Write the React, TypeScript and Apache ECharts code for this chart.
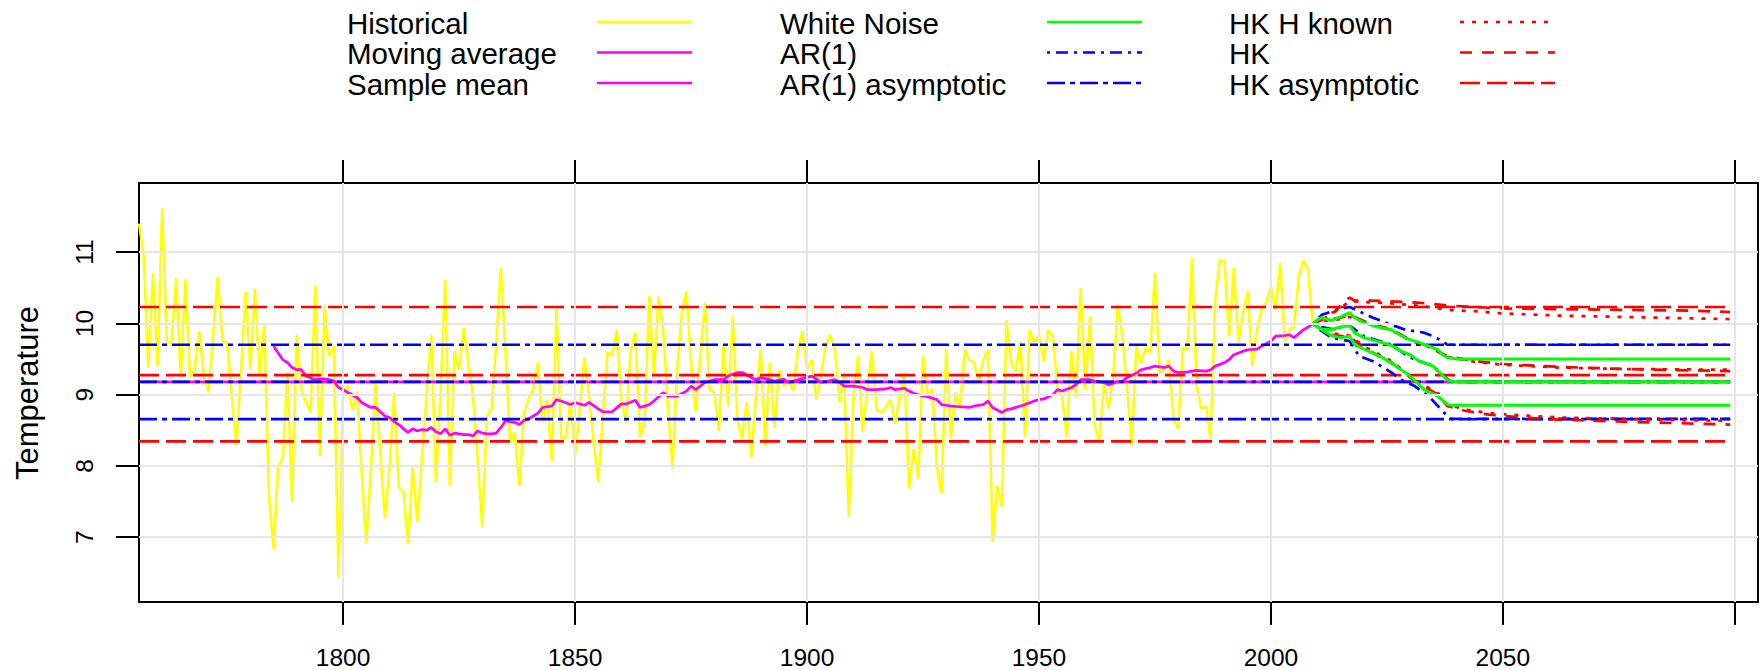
import React, { useEffect, useRef } from 'react';
import * as echarts from 'echarts';

// ---------- DATA ----------
const historicalStartYear = 1756;
// annual temperatures 1756..2009
const historical: number[] = [
  11.40, 10.95, 9.38, 10.71, 9.40, 11.62, 9.73, 9.73, 10.64, 9.24,
  10.62, 9.24, 9.35, 9.89, 9.25, 9.03, 9.85, 10.66, 9.75, 9.73,
  8.98, 8.28, 9.35, 10.45, 9.35, 10.48, 9.26, 9.98, 7.60, 6.84,
  8.00, 8.10, 9.31, 7.49, 9.84, 9.07, 8.89, 8.75, 10.54, 8.14,
  10.24, 9.54, 9.68, 6.44, 9.07, 9.12, 8.78, 9.05, 7.91, 6.90,
  7.96, 9.17, 8.20, 7.26, 7.96, 9.03, 7.70, 7.63, 6.90, 7.98,
  7.21, 8.14, 8.98, 9.84, 7.77, 9.00, 10.61, 7.72, 9.61, 9.35,
  9.94, 9.45, 8.98, 8.10, 7.14, 8.70, 8.79, 9.70, 10.78, 9.60,
  8.33, 8.47, 7.72, 8.75, 8.95, 9.07, 9.45, 8.61, 8.93, 8.07,
  10.22, 8.40, 8.40, 8.91, 8.14, 8.80, 9.52, 9.00, 8.35, 7.77,
  8.70, 9.59, 9.55, 9.91, 8.89, 8.61, 9.63, 9.87, 8.40, 8.61,
  10.38, 9.26, 10.38, 9.91, 8.84, 7.96, 9.35, 10.15, 10.45, 9.45,
  8.77, 9.54, 10.29, 9.07, 9.03, 8.49, 9.70, 8.84, 10.10, 8.65,
  8.38, 8.89, 8.12, 8.98, 9.63, 8.28, 9.45, 8.54, 9.35, 9.12,
  9.21, 9.05, 9.60, 9.89, 9.35, 9.49, 8.93, 9.26, 9.68, 9.84,
  9.63, 8.89, 9.26, 7.28, 8.95, 9.54, 8.47, 9.07, 9.61, 8.79,
  8.75, 8.82, 8.93, 8.59, 8.98, 9.31, 7.68, 8.24, 7.82, 9.54,
  9.00, 9.08, 7.98, 7.61, 9.63, 8.38, 9.03, 8.80, 9.63, 9.49,
  9.45, 9.17, 9.49, 9.63, 6.93, 7.72, 7.42, 10.05, 9.45, 9.33,
  9.75, 8.40, 9.91, 9.73, 9.84, 9.47, 9.91, 9.82, 9.07, 8.98,
  8.40, 9.61, 8.96, 10.50, 9.07, 10.10, 8.56, 8.35, 9.17, 8.80,
  9.26, 10.24, 9.82, 9.07, 8.28, 9.68, 9.45, 9.65, 9.59, 10.71,
  9.31, 9.35, 9.49, 8.65, 8.52, 9.66, 9.63, 10.92, 9.12, 8.80,
  8.84, 8.38, 10.33, 10.89, 10.87, 9.82, 10.78, 9.73, 10.15, 10.45,
  9.40, 9.91, 10.19, 10.29, 10.52, 10.19, 10.85, 9.75, 9.91, 9.96,
  10.66, 10.88, 10.75, 10.00,
];

// 30-year moving average [year, value]
const movingAverage: [number, number][] = [
  [1785, 9.68], [1787, 9.49], [1788, 9.45], [1789, 9.38], [1790, 9.35], [1791, 9.35], [1792, 9.26],
  [1794, 9.21], [1796, 9.22], [1797, 9.21], [1798, 9.19], [1799, 9.10], [1800, 9.07], [1801, 9.03],
  [1803, 8.96], [1804, 8.89], [1806, 8.82], [1807, 8.82], [1809, 8.70], [1810, 8.68], [1811, 8.62],
  [1812, 8.58], [1813, 8.52], [1814, 8.47], [1815, 8.52], [1816, 8.49], [1817, 8.51], [1818, 8.50],
  [1819, 8.54], [1820, 8.48], [1821, 8.45], [1822, 8.52], [1823, 8.43], [1824, 8.46], [1825, 8.45],
  [1826, 8.44], [1827, 8.44], [1828, 8.42], [1829, 8.49], [1830, 8.46], [1831, 8.45], [1832, 8.45],
  [1833, 8.46], [1834, 8.54], [1835, 8.63], [1836, 8.62], [1837, 8.61], [1838, 8.58], [1839, 8.64],
  [1840, 8.66], [1841, 8.70], [1842, 8.74], [1843, 8.82], [1845, 8.84], [1846, 8.93], [1847, 8.91],
  [1849, 8.86], [1850, 8.89], [1852, 8.85], [1853, 8.89], [1855, 8.80], [1856, 8.76], [1858, 8.76],
  [1860, 8.87], [1861, 8.87], [1863, 8.92], [1864, 8.82], [1866, 8.86], [1867, 8.91], [1869, 9.03],
  [1870, 8.98], [1872, 8.98], [1874, 9.05], [1875, 9.12], [1876, 9.07], [1878, 9.17], [1880, 9.21],
  [1882, 9.21], [1883, 9.26], [1885, 9.31], [1886, 9.31], [1888, 9.24], [1889, 9.21], [1890, 9.24],
  [1892, 9.21], [1893, 9.19], [1895, 9.22], [1896, 9.17], [1897, 9.19], [1901, 9.26], [1902, 9.22],
  [1903, 9.17], [1906, 9.21], [1907, 9.17], [1908, 9.12], [1910, 9.12], [1912, 9.10], [1913, 9.07],
  [1915, 9.07], [1917, 9.08], [1918, 9.10], [1919, 9.07], [1921, 9.09], [1922, 9.05], [1923, 9.02],
  [1925, 8.98], [1926, 8.97], [1928, 8.93], [1929, 8.86], [1931, 8.84], [1933, 8.83], [1935, 8.82],
  [1936, 8.84], [1938, 8.86], [1939, 8.91], [1940, 8.82], [1942, 8.75], [1943, 8.79], [1944, 8.80],
  [1946, 8.84], [1947, 8.86], [1949, 8.91], [1950, 8.93], [1951, 8.94], [1953, 9.00], [1954, 9.07],
  [1955, 9.05], [1957, 9.10], [1958, 9.14], [1959, 9.21], [1961, 9.21], [1962, 9.19], [1964, 9.17],
  [1965, 9.14], [1967, 9.18], [1968, 9.19], [1969, 9.24], [1971, 9.30], [1972, 9.35], [1974, 9.38],
  [1975, 9.40], [1977, 9.38], [1978, 9.40], [1979, 9.33], [1980, 9.31], [1982, 9.32], [1983, 9.33],
  [1984, 9.34], [1986, 9.33], [1987, 9.35], [1988, 9.40], [1990, 9.45], [1991, 9.49], [1992, 9.56],
  [1994, 9.61], [1995, 9.63], [1997, 9.64], [1998, 9.68], [2000, 9.75], [2001, 9.82], [2003, 9.83],
  [2004, 9.84], [2005, 9.80], [2007, 9.91], [2009, 9.99],
];

const sampleMean = 9.18;
const ar1Asymptotic = [9.70, 9.18, 8.655];
const hkAsymptotic = [10.23, 9.275, 8.343];
const refLineStart = 1756;
const refLineEnd = 2099;

// projections [year, value]
const whiteNoiseUpper: [number, number][] = [
  [2009, 9.99], [2010, 10.05], [2011, 10.08], [2013, 10.04], [2015, 10.09], [2017, 10.15], [2018, 10.08],
  [2020, 10.01], [2023, 9.95], [2026, 9.91], [2028, 9.83], [2030, 9.77], [2032, 9.73], [2034, 9.68],
  [2036, 9.63], [2037, 9.56], [2038, 9.52], [2040, 9.50], [2099, 9.50],
];
const whiteNoiseMid: [number, number][] = [
  [2009, 9.99], [2011, 9.92], [2013, 9.91], [2015, 9.95], [2017, 9.97], [2018, 9.87], [2020, 9.80],
  [2023, 9.75], [2026, 9.69], [2028, 9.61], [2030, 9.56], [2032, 9.47], [2035, 9.40], [2036, 9.33],
  [2038, 9.21], [2039, 9.18], [2099, 9.18],
];
const whiteNoiseLower: [number, number][] = [
  [2009, 9.99], [2011, 9.91], [2013, 9.83], [2015, 9.80], [2017, 9.82], [2018, 9.70], [2021, 9.61],
  [2024, 9.52], [2027, 9.40], [2030, 9.26], [2033, 9.07], [2036, 8.98], [2038, 8.86], [2039, 8.85],
  [2099, 8.85],
];
const ar1Upper: [number, number][] = [
  [2009, 9.99], [2011, 10.12], [2014, 10.19], [2017, 10.23], [2019, 10.17], [2022, 10.08], [2026, 9.98],
  [2029, 9.91], [2033, 9.87], [2035, 9.82], [2037, 9.75], [2038, 9.70], [2099, 9.70],
];
const ar1Mid: [number, number][] = [
  [2009, 9.99], [2011, 9.95], [2013, 9.92], [2017, 9.97], [2020, 9.82], [2026, 9.70], [2030, 9.52],
  [2035, 9.40], [2038, 9.22], [2039, 9.18], [2099, 9.18],
];
const ar1Lower: [number, number][] = [
  [2009, 9.99], [2011, 9.89], [2013, 9.80], [2017, 9.75], [2019, 9.54], [2022, 9.47], [2026, 9.31],
  [2028, 9.21], [2031, 9.12], [2034, 8.98], [2036, 8.84], [2038, 8.70], [2039, 8.66], [2099, 8.66],
];
const hkUpper: [number, number][] = [
  [2009, 9.99], [2011, 10.09], [2014, 10.17], [2016, 10.33], [2017, 10.36], [2018, 10.32], [2021, 10.32],
  [2026, 10.31], [2029, 10.30], [2034, 10.28], [2038, 10.25], [2044, 10.23], [2050, 10.21], [2062, 10.20],
  [2076, 10.19], [2090, 10.18], [2099, 10.16],
];
const hkMid: [number, number][] = [
  [2009, 9.99], [2011, 10.05], [2015, 10.08], [2017, 10.11], [2018, 10.09], [2022, 9.98], [2026, 9.92],
  [2030, 9.77], [2034, 9.68], [2038, 9.54], [2044, 9.47], [2050, 9.43], [2062, 9.39], [2076, 9.36],
  [2099, 9.33],
];
const hkLower: [number, number][] = [
  [2009, 9.99], [2013, 9.84], [2017, 9.81], [2020, 9.66], [2026, 9.45], [2031, 9.19], [2036, 9.00],
  [2038, 8.84], [2042, 8.77], [2047, 8.72], [2054, 8.68], [2062, 8.65], [2076, 8.62], [2099, 8.58],
];
const hkKnownUpper: [number, number][] = [
  [2009, 9.99], [2012, 10.09], [2015, 10.22], [2017, 10.31], [2020, 10.30], [2026, 10.28], [2033, 10.24],
  [2038, 10.19], [2044, 10.17], [2050, 10.14], [2062, 10.11], [2076, 10.09], [2099, 10.06],
];
const hkKnownMid: [number, number][] = [
  [2009, 9.99], [2011, 10.03], [2015, 10.06], [2017, 10.09], [2018, 10.07], [2022, 9.97], [2026, 9.90],
  [2030, 9.76], [2034, 9.67], [2038, 9.53], [2044, 9.46], [2050, 9.42], [2062, 9.38], [2076, 9.36],
  [2099, 9.35],
];
const hkKnownLower: [number, number][] = [
  [2009, 9.99], [2013, 9.86], [2017, 9.83], [2020, 9.68], [2026, 9.47], [2031, 9.21], [2036, 9.02],
  [2038, 8.86], [2042, 8.79], [2047, 8.74], [2054, 8.71], [2062, 8.68], [2076, 8.66], [2099, 8.63],
];

const xGridValues = [1800, 1850, 1900, 1950, 2000, 2050, 2100];
const xTickValues = [1800, 1850, 1900, 1950, 2000, 2050, 2100];
const xLabelValues = [1800, 1850, 1900, 1950, 2000, 2050];
const yTickValues = [7, 8, 9, 10, 11];

// ---------- STYLE ----------
const FONT = "'Liberation Sans', Arial, Helvetica, sans-serif";
const YELLOW = '#FFFF00';
const MAGENTA = '#FF00FF';
const GREEN = '#00FF00';
const BLUE = '#0000FF';
const RED = '#FF0000';
const LW = 2.7;
const DASH_AR1 = [3, 6, 12, 6];
const DASH_AR1_ASYM = [18, 5, 5, 5];
const DASH_HK_KNOWN = [4, 8];
const DASH_HK = [12, 10];
const DASH_HK_ASYM = [20, 7];

const mkLine = (name: string, data: any[], color: string, dash: any = 'solid', width = LW) => ({
  type: 'line',
  name,
  data,
  showSymbol: false,
  symbol: 'none',
  silent: true,
  animation: false,
  emphasis: { disabled: true },
  lineStyle: { color, width, type: dash },
});

const hLine = (v: number): [number, number][] => [[refLineStart, v], [refLineEnd, v]];

const legendRowsY = [22, 52.5, 83];
const LEGEND_FONT = 29.5;
const legendColumns = [
  {
    textX: 347, x1: 597, x2: 692,
    items: [
      { label: 'Historical', color: YELLOW, dash: null },
      { label: 'Moving average', color: MAGENTA, dash: null },
      { label: 'Sample mean', color: MAGENTA, dash: null },
    ],
  },
  {
    textX: 780, x1: 1047, x2: 1142,
    items: [
      { label: 'White Noise', color: GREEN, dash: null },
      { label: 'AR(1)', color: BLUE, dash: DASH_AR1 },
      { label: 'AR(1) asymptotic', color: BLUE, dash: DASH_AR1_ASYM },
    ],
  },
  {
    textX: 1229, x1: 1460, x2: 1555,
    items: [
      { label: 'HK H known', color: RED, dash: DASH_HK_KNOWN },
      { label: 'HK', color: RED, dash: DASH_HK },
      { label: 'HK asymptotic', color: RED, dash: DASH_HK_ASYM },
    ],
  },
];

function buildOption() {
  const graphic: any[] = [];
  legendColumns.forEach((col) => {
    col.items.forEach((it, i) => {
      const y = legendRowsY[i];
      graphic.push({
        type: 'text', x: col.textX, y: y + 1, silent: true,
        style: {
          text: it.label, fontSize: LEGEND_FONT, lineHeight: 29, fontFamily: FONT, fill: '#000',
          textAlign: 'left', verticalAlign: 'middle', textVerticalAlign: 'middle',
        },
      });
      graphic.push({
        type: 'line', silent: true,
        shape: { x1: col.x1, y1: y, x2: col.x2, y2: y },
        style: { stroke: it.color, lineWidth: LW, lineDash: it.dash || null },
      });
    });
  });
  graphic.push({
    type: 'text', x: 27, y: 393, rotation: Math.PI / 2, silent: true,
    style: {
      text: 'Temperature', fontSize: 31, fontFamily: FONT, fill: '#000',
      textAlign: 'center', verticalAlign: 'middle', textVerticalAlign: 'middle',
    },
  });

  const histData = historical.map((v, i) => [historicalStartYear + i, v]);

  const series: any[] = [
    {
      type: 'line',
      data: [[1756, 9]],
      symbol: 'none',
      showSymbol: false,
      silent: true,
      z: 1,
      lineStyle: { opacity: 0 },
      markLine: {
        silent: true,
        symbol: ['none', 'none'],
        animation: false,
        label: { show: false },
        lineStyle: { color: '#E6E6E6', width: 2, type: 'solid' },
        emphasis: { disabled: true },
        data: [
          ...xGridValues.map((v) => ({ xAxis: v })),
          ...yTickValues.map((v) => ({ yAxis: v })),
        ],
      },
    },
    mkLine('Historical', histData, YELLOW, 'solid', 2.5),
    mkLine('Moving average', movingAverage, MAGENTA),
    mkLine('Sample mean', hLine(sampleMean), MAGENTA),
    ...ar1Asymptotic.map((v) => mkLine('AR(1) asymptotic', hLine(v), BLUE, DASH_AR1_ASYM)),
    ...hkAsymptotic.map((v) => mkLine('HK asymptotic', hLine(v), RED, DASH_HK_ASYM)),
    mkLine('AR(1)', ar1Upper, BLUE, DASH_AR1),
    mkLine('AR(1)', ar1Mid, BLUE, DASH_AR1),
    mkLine('AR(1)', ar1Lower, BLUE, DASH_AR1),
    mkLine('HK', hkUpper, RED, DASH_HK),
    mkLine('HK', hkMid, RED, DASH_HK),
    mkLine('HK', hkLower, RED, DASH_HK),
    mkLine('HK H known', hkKnownUpper, RED, DASH_HK_KNOWN),
    mkLine('HK H known', hkKnownMid, RED, DASH_HK_KNOWN),
    mkLine('HK H known', hkKnownLower, RED, DASH_HK_KNOWN),
    mkLine('White Noise', whiteNoiseUpper, GREEN, 'solid', 3),
    mkLine('White Noise', whiteNoiseMid, GREEN, 'solid', 3),
    mkLine('White Noise', whiteNoiseLower, GREEN, 'solid', 3),
  ];

  return {
    animation: false,
    backgroundColor: '#fff',
    textStyle: { fontFamily: FONT },
    grid: {
      left: 139, top: 183, width: 1619, height: 420,
      show: true, borderColor: '#000', borderWidth: 2, backgroundColor: 'transparent',
      containLabel: false,
    },
    xAxis: [
      {
        type: 'value', position: 'bottom', min: 1756, max: 2105,
        axisLine: { show: false },
        splitLine: { show: false },
        axisTick: {
          show: true, inside: false, length: 23, customValues: xTickValues,
          lineStyle: { color: '#000', width: 2 },
        },
        axisLabel: {
          show: true, customValues: xLabelValues, margin: 43,
          fontSize: 24.5, fontFamily: FONT, color: '#000',
          formatter: (v: number) => String(v),
        },
      },
      {
        type: 'value', position: 'top', min: 1756, max: 2105,
        axisLine: { show: false },
        splitLine: { show: false },
        axisTick: {
          show: true, inside: false, length: 23, customValues: xTickValues,
          lineStyle: { color: '#000', width: 2 },
        },
        axisLabel: { show: false },
      },
    ],
    yAxis: {
      type: 'value', min: 6.09, max: 11.97,
      axisLine: { show: false },
      splitLine: { show: false },
      axisTick: {
        show: true, inside: false, length: 23, customValues: yTickValues,
        lineStyle: { color: '#000', width: 2 },
      },
      axisLabel: {
        show: true, customValues: yTickValues, rotate: 90, margin: 42,
        fontSize: 24.5, fontFamily: FONT, color: '#000',
        formatter: (v: number) => String(v),
      },
    },
    graphic,
    series,
  };
}

export default function App() {
  const ref = useRef<HTMLDivElement>(null);
  useEffect(() => {
    if (!ref.current) return;
    const chart = echarts.init(ref.current, null, { renderer: 'svg' });
    chart.setOption(buildOption() as any);
    return () => {
      chart.dispose();
    };
  }, []);
  return (
    <div
      ref={ref}
      style={{ position: 'fixed', left: 0, top: 0, width: 1762, height: 670, background: '#fff' }}
    />
  );
}
